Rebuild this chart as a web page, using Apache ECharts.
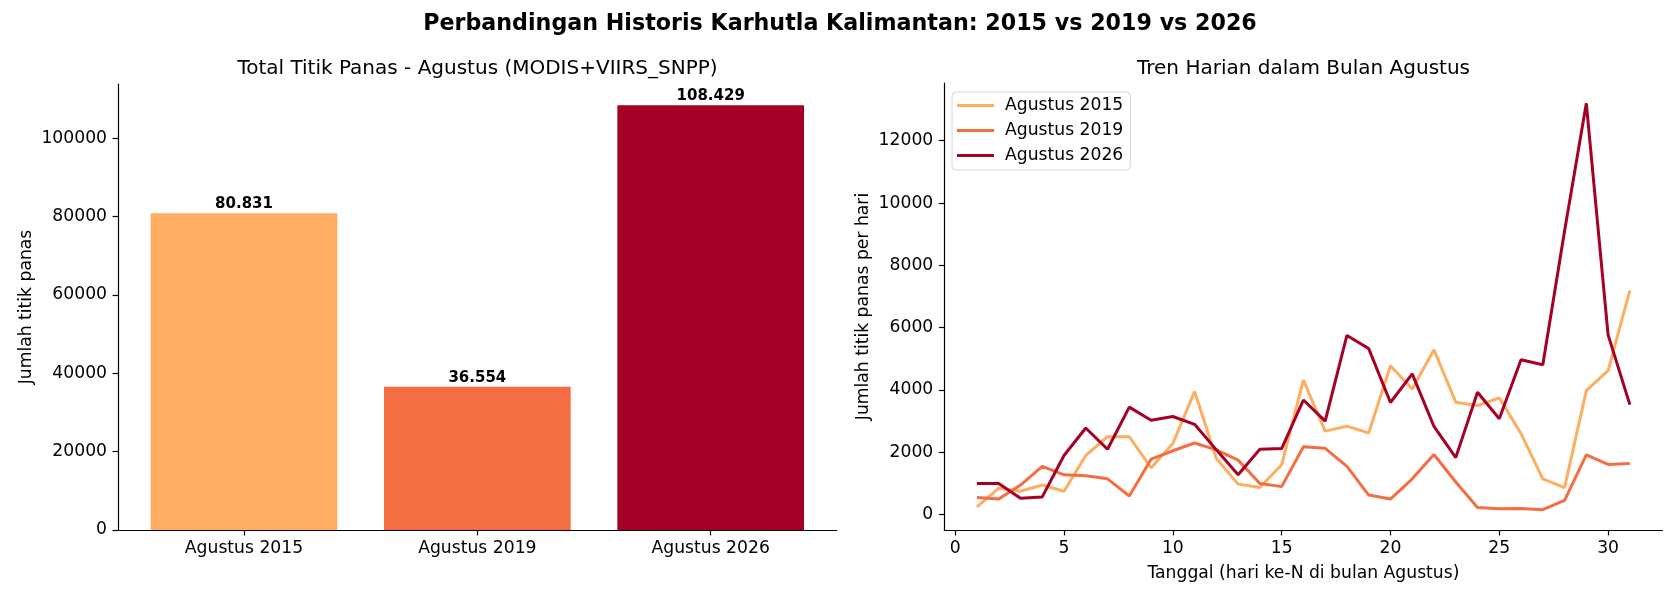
<!DOCTYPE html>
<html>
<head>
<meta charset="utf-8">
<script src="https://cdn.jsdelivr.net/npm/echarts@6/dist/echarts.min.js"></script>
<style>html,body{margin:0;padding:0;background:#fff}#c{width:1680px;height:600px}</style>
</head>
<body>
<div id="c"></div>
<script>
// ---- data ----
const barCategories = ['Agustus 2015', 'Agustus 2019', 'Agustus 2026'];
const barTotals = [80831, 36554, 108429];
const barColors = ['#FDAE61', '#F46D43', '#A50026'];
const barYTicks = [0, 20000, 40000, 60000, 80000, 100000];

const days = [1,2,3,4,5,6,7,8,9,10,11,12,13,14,15,16,17,18,19,20,21,22,23,24,25,26,27,28,29,30,31];
const daily2015 = [250, 850, 750, 950, 750, 1900, 2500, 2500, 1500, 2280, 3950, 1800, 980, 870, 1600, 4320, 2680, 2840, 2620, 4780, 4030, 5290, 3610, 3500, 3750, 2600, 1150, 870, 3980, 4620, 7200];
const daily2019 = [550, 500, 950, 1550, 1280, 1250, 1150, 600, 1780, 2050, 2300, 2080, 1750, 1000, 900, 2180, 2130, 1550, 630, 500, 1150, 1930, 1050, 230, 190, 200, 160, 460, 1920, 1610, 1640];
const daily2026 = [1000, 1000, 530, 570, 1900, 2780, 2100, 3450, 3030, 3150, 2900, 2080, 1280, 2100, 2120, 3680, 3000, 5750, 5330, 3600, 4520, 2830, 1830, 3930, 3080, 4970, 4810, 9100, 13200, 5770, 3530];
const lineNames = ['Agustus 2015', 'Agustus 2019', 'Agustus 2026'];
const lineColors = ['#FDAE61', '#F46D43', '#A50026'];
const lineXTicks = [0, 5, 10, 15, 20, 25, 30];
const lineYTicks = [0, 2000, 4000, 6000, 8000, 10000, 12000];

// ---- layout helpers ----
const FONT = 'DejaVu Sans';
const FS = 17.2;
const fmtDot = v => String(v).replace(/\B(?=(\d{3})+(?!\d))/g, '.');
const plain = v => String(v);
const allDaily = daily2015.concat(daily2019, daily2026);
const dMin = Math.min.apply(null, allDaily), dMax = Math.max.apply(null, allDaily);
const yPad = 0.05 * (dMax - dMin);
const barMax = Math.max.apply(null, barTotals) * 1.05;

const axisLine = { show: true, onZero: false, lineStyle: { color: '#000', width: 1.2 } };
const axisTick = { show: true, length: 5.4, lineStyle: { color: '#000', width: 1.2 } };
const lbl = { color: '#000', fontFamily: FONT, fontSize: FS };

const chart = echarts.init(document.getElementById('c'));
chart.setOption({
  animation: false,
  backgroundColor: '#fff',
  title: [
    { text: 'Perbandingan Historis Karhutla Kalimantan: 2015 vs 2019 vs 2026', left: 'center', top: 8,
      textStyle: { fontFamily: FONT, fontSize: 22.2, fontWeight: 'bold', color: '#000' } },
    { text: 'Total Titik Panas - Agustus (MODIS+VIIRS_SNPP)', left: 472.5, textAlign: 'center', top: 54,
      textStyle: { fontFamily: FONT, fontSize: 20, fontWeight: 'normal', color: '#000' } },
    { text: 'Tren Harian dalam Bulan Agustus', left: 1298.5, textAlign: 'center', top: 54,
      textStyle: { fontFamily: FONT, fontSize: 20, fontWeight: 'normal', color: '#000' } }
  ],
  legend: {
    orient: 'vertical', left: 952, top: 92,
    data: lineNames,
    icon: 'rect', itemWidth: 37, itemHeight: 3, itemGap: 6,
    padding: [4, 7, 5, 5],
    backgroundColor: 'rgba(255,255,255,0.8)', borderColor: '#d6d6d6', borderWidth: 1, borderRadius: 4,
    textStyle: { fontFamily: FONT, fontSize: FS, color: '#000', lineHeight: 19, padding: [0, 0, 0, 6] }
  },
  grid: [
    { left: 118, right: 1680 - 836.7, top: 84, bottom: 70, containLabel: false },
    { left: 944.3, right: 1680 - 1662.5, top: 83, bottom: 70, containLabel: false }
  ],
  xAxis: [
    { gridIndex: 0, type: 'value', min: -0.54, max: 2.54,
      axisLine, axisTick: Object.assign({ customValues: [0, 1, 2] }, axisTick),
      axisLabel: Object.assign({ customValues: [0, 1, 2], margin: 10, formatter: v => barCategories[Math.round(v)] }, lbl),
      splitLine: { show: false } },
    { gridIndex: 1, type: 'value', min: -0.5, max: 32.5,
      axisLine, axisTick: Object.assign({ customValues: lineXTicks }, axisTick),
      axisLabel: Object.assign({ customValues: lineXTicks, margin: 10, formatter: plain }, lbl),
      splitLine: { show: false },
      name: 'Tanggal (hari ke-N di bulan Agustus)', nameLocation: 'middle', nameGap: 35,
      nameTextStyle: lbl }
  ],
  yAxis: [
    { gridIndex: 0, type: 'value', min: 0, max: barMax,
      axisLine, axisTick: Object.assign({ customValues: barYTicks }, axisTick),
      axisLabel: Object.assign({ customValues: barYTicks, margin: 11, formatter: plain }, lbl),
      splitLine: { show: false },
      name: 'Jumlah titik panas', nameLocation: 'middle', nameGap: 83, nameTextStyle: lbl },
    { gridIndex: 1, type: 'value', min: dMin - yPad, max: dMax + yPad,
      axisLine, axisTick: Object.assign({ customValues: lineYTicks }, axisTick),
      axisLabel: Object.assign({ customValues: lineYTicks, margin: 11, formatter: plain }, lbl),
      splitLine: { show: false },
      name: 'Jumlah titik panas per hari', nameLocation: 'middle', nameGap: 72, nameTextStyle: lbl }
  ],
  series: [
    { type: 'bar', name: 'Total', xAxisIndex: 0, yAxisIndex: 0, barWidth: '80%',
      data: barTotals.map((v, i) => ({ value: [i, v], itemStyle: { color: barColors[i] } })),
      label: { show: true, position: 'top', distance: 1.5, fontFamily: FONT, fontSize: 15, fontWeight: 'bold', color: '#000',
        formatter: p => fmtDot(p.value[1]) } },
    { type: 'line', name: lineNames[0], xAxisIndex: 1, yAxisIndex: 1, symbol: 'none', z: 2,
      lineStyle: { color: lineColors[0], width: 3 }, itemStyle: { color: lineColors[0] },
      data: days.map((d, i) => [d, daily2015[i]]) },
    { type: 'line', name: lineNames[1], xAxisIndex: 1, yAxisIndex: 1, symbol: 'none', z: 3,
      lineStyle: { color: lineColors[1], width: 3 }, itemStyle: { color: lineColors[1] },
      data: days.map((d, i) => [d, daily2019[i]]) },
    { type: 'line', name: lineNames[2], xAxisIndex: 1, yAxisIndex: 1, symbol: 'none', z: 4,
      lineStyle: { color: lineColors[2], width: 3 }, itemStyle: { color: lineColors[2] },
      data: days.map((d, i) => [d, daily2026[i]]) }
  ]
});
</script>
</body>
</html>
